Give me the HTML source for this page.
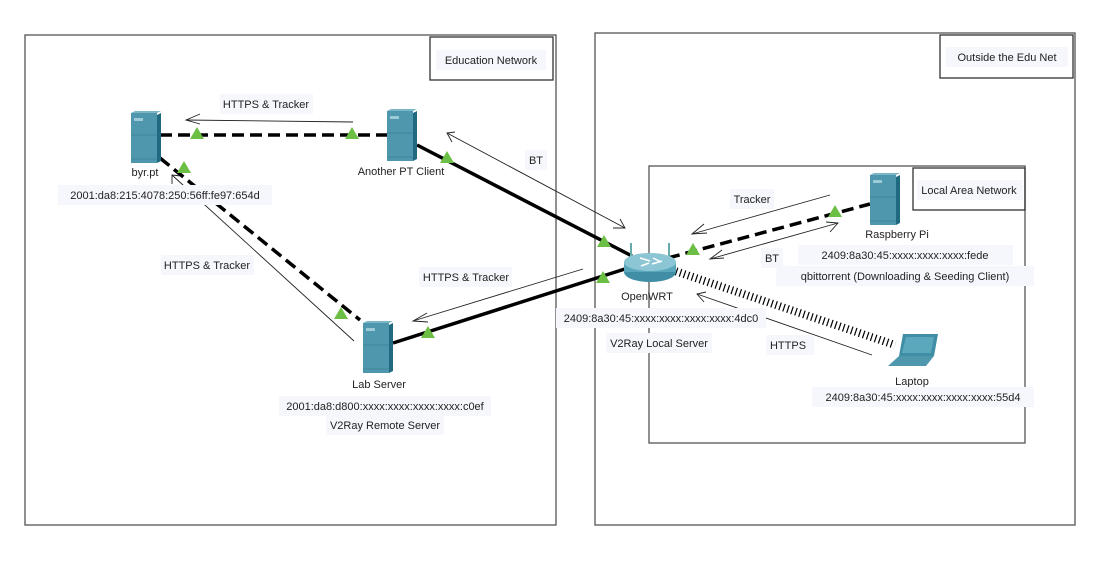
<!DOCTYPE html>
<html><head><meta charset="utf-8"><style>
body{margin:0;background:#fff}
svg text{font-family:"Liberation Sans",sans-serif;font-size:11px;fill:#222}
</style></head><body>
<svg width="1095" height="556" viewBox="0 0 1095 556" xmlns="http://www.w3.org/2000/svg">
<defs>
<g id="srv"><rect x="0" y="0" width="26" height="50" fill="#4f97ac"/><polygon points="26,2 30,0 30,48 26,50" fill="#1f6a80"/><polygon points="0,0 4,-2 30,-2 26,0" fill="#7ab6c6"/><rect x="3" y="5" width="9" height="3" fill="#9ccbd7"/><line x1="0" y1="22" x2="26" y2="22" stroke="#3f8599"/><line x1="0" y1="46" x2="26" y2="46" stroke="#3f8599"/></g>
<g id="tri"><polygon points="0,-7 7,5 -7,5" fill="#6cbf45"/></g>
</defs>
<rect x="25" y="35" width="531" height="490" fill="none" stroke="#555" stroke-width="1.3"/>
<rect x="430" y="37" width="123" height="43" fill="none" stroke="#333" stroke-width="1.3"/>
<rect x="595" y="33" width="480" height="492" fill="none" stroke="#555" stroke-width="1.3"/>
<rect x="940" y="35" width="133" height="43" fill="none" stroke="#333" stroke-width="1.3"/>
<rect x="649" y="166" width="376" height="277" fill="none" stroke="#555" stroke-width="1.3"/>
<rect x="913" y="168" width="112" height="42" fill="none" stroke="#333" stroke-width="1.3"/>
<g stroke="#222" stroke-width="0.9" fill="none">
<line x1="353" y1="122" x2="186" y2="120"/><polyline points="200,114 186,120 200,124"/>
<line x1="447" y1="133" x2="625" y2="228"/><polyline points="455,132 447,133 452,142"/><polyline points="613,228 625,228 620,219"/>
<line x1="172" y1="175" x2="354" y2="341"/><polyline points="172,184 172,175 181,176"/>
<line x1="583" y1="269" x2="413" y2="321"/><polyline points="427,313 413,321 428,322"/>
<line x1="830" y1="195" x2="692" y2="234"/><polyline points="704,224 692,234 707,233"/>
<line x1="838" y1="223" x2="710" y2="259"/><polyline points="826,222 838,223 830,232"/><polyline points="722,250 710,259 724,258"/>
<line x1="872" y1="355" x2="697" y2="294"/><polyline points="706,292 697,294 704,302"/>
</g>
<g stroke="#000" stroke-width="3.5" fill="none">
<line x1="160" y1="135" x2="387" y2="135" stroke-dasharray="12,6"/>
<line x1="160" y1="158" x2="360" y2="320" stroke-dasharray="12,6"/>
<line x1="417" y1="145" x2="632" y2="256"/>
<line x1="393" y1="343" x2="628" y2="268"/>
<line x1="668" y1="258" x2="870" y2="204" stroke-dasharray="12,6"/>
<line x1="672" y1="270" x2="895" y2="345" stroke-width="8" stroke-dasharray="1.2,3"/>
</g>
<use href="#tri" x="197" y="134"/><use href="#tri" x="352" y="134"/>
<use href="#tri" x="184" y="168"/><use href="#tri" x="341" y="314"/>
<use href="#tri" x="447" y="158"/><use href="#tri" x="604" y="242"/>
<use href="#tri" x="428" y="333"/><use href="#tri" x="603" y="278"/>
<use href="#tri" x="693" y="250"/><use href="#tri" x="835" y="212"/>
<use href="#srv" x="131" y="113"/>
<use href="#srv" x="387" y="111"/>
<use href="#srv" x="363" y="323"/>
<use href="#srv" x="870" y="175"/>
<g>
<line x1="631" y1="243" x2="631" y2="258" stroke="#6aa" stroke-width="2"/>
<line x1="669" y1="243" x2="669" y2="258" stroke="#6aa" stroke-width="2"/>
<ellipse cx="650" cy="272" rx="26" ry="10" fill="#3f8ea5"/>
<rect x="624" y="262" width="52" height="10" fill="#5ba8bd"/>
<ellipse cx="650" cy="262" rx="26" ry="9" fill="#8cc6d4"/>
<path d="M640 258 l10 3 M652 264 l10-3 M641 266 l8-3 M653 258 l8 4" stroke="#fff" stroke-width="1.5"/>
</g>
<g>
<polygon points="903,334 938,334 934,356 899,356" fill="#3f8ea5"/>
<polygon points="906,337 934,337 931,353 902,353" fill="#5ba8bd"/>
<polygon points="899,356 934,356 926,366 888,366" fill="#4f97ac"/>
</g>
<g>
<rect x="436" y="50" width="110" height="20" fill="#f6f7fc"/><text x="491" y="64" text-anchor="middle">Education Network</text>
<rect x="946" y="47" width="122" height="20" fill="#f6f7fc"/><text x="1007" y="61" text-anchor="middle">Outside the Edu Net</text>
<rect x="917" y="180" width="106" height="20" fill="#f6f7fc"/><text x="969" y="194" text-anchor="middle">Local Area Network</text>
<rect x="220" y="94" width="93" height="20" fill="#f6f7fc"/><text x="266" y="108" text-anchor="middle">HTTPS &amp; Tracker</text>
<text x="145" y="176" text-anchor="middle">byr.pt</text>
<rect x="58" y="185" width="214" height="20" fill="#f6f7fc"/><text x="165" y="199" text-anchor="middle">2001:da8:215:4078:250:56ff:fe97:654d</text>
<text x="401" y="175" text-anchor="middle">Another PT Client</text>
<rect x="525" y="150" width="22" height="20" fill="#f6f7fc"/><text x="536" y="164" text-anchor="middle">BT</text>
<rect x="161" y="255" width="93" height="20" fill="#f6f7fc"/><text x="207" y="269" text-anchor="middle">HTTPS &amp; Tracker</text>
<rect x="419" y="267" width="93" height="20" fill="#f6f7fc"/><text x="466" y="281" text-anchor="middle">HTTPS &amp; Tracker</text>
<text x="379" y="388" text-anchor="middle">Lab Server</text>
<rect x="279" y="396" width="212" height="20" fill="#f6f7fc"/><text x="385" y="410" text-anchor="middle">2001:da8:d800:xxxx:xxxx:xxxx:xxxx:c0ef</text>
<rect x="326" y="415" width="118" height="20" fill="#f6f7fc"/><text x="385" y="429" text-anchor="middle">V2Ray Remote Server</text>
<text x="647" y="300" text-anchor="middle">OpenWRT</text>
<rect x="556" y="308" width="210" height="20" fill="#f6f7fc"/><text x="661" y="322" text-anchor="middle">2409:8a30:45:xxxx:xxxx:xxxx:xxxx:4dc0</text>
<rect x="606" y="333" width="106" height="20" fill="#f6f7fc"/><text x="659" y="347" text-anchor="middle">V2Ray Local Server</text>
<rect x="730" y="189" width="44" height="20" fill="#f6f7fc"/><text x="752" y="203" text-anchor="middle">Tracker</text>
<rect x="761" y="248" width="22" height="20" fill="#f6f7fc"/><text x="772" y="262" text-anchor="middle">BT</text>
<text x="897" y="238" text-anchor="middle">Raspberry Pi</text>
<rect x="798" y="245" width="215" height="20" fill="#f6f7fc"/><text x="905" y="259" text-anchor="middle">2409:8a30:45:xxxx:xxxx:xxxx:fede</text>
<rect x="776" y="266" width="258" height="20" fill="#f6f7fc"/><text x="905" y="280" text-anchor="middle">qbittorrent (Downloading &amp; Seeding Client)</text>
<rect x="766" y="335" width="48" height="20" fill="#f6f7fc"/><text x="788" y="349" text-anchor="middle">HTTPS</text>
<text x="912" y="385" text-anchor="middle">Laptop</text>
<rect x="812" y="387" width="222" height="20" fill="#f6f7fc"/><text x="923" y="401" text-anchor="middle">2409:8a30:45:xxxx:xxxx:xxxx:xxxx:55d4</text>
</g>
</svg>
</body></html>
